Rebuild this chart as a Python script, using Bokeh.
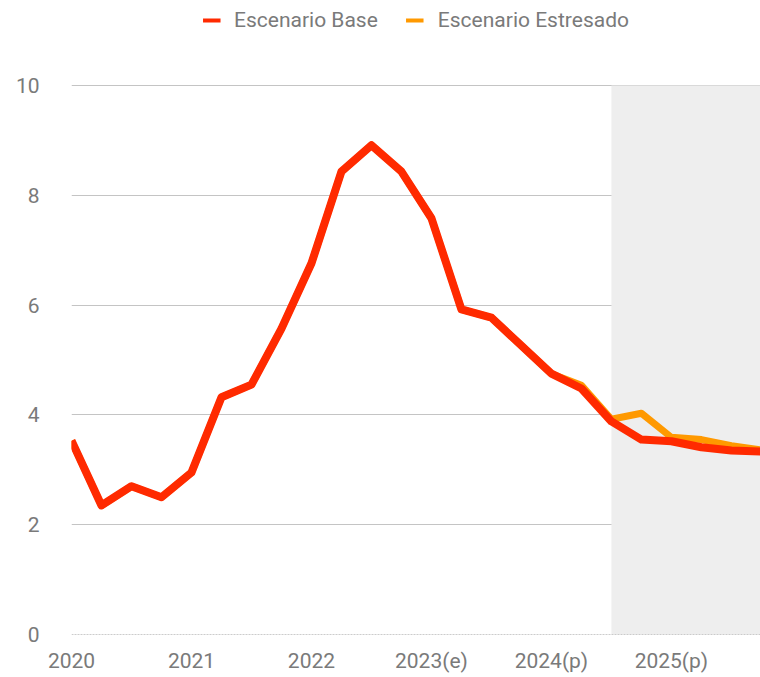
from bokeh.plotting import figure
from bokeh.models import (ColumnDataSource, FixedTicker, Span, BoxAnnotation,
                          Legend, LegendItem)
from bokeh.embed import file_html
from bokeh.resources import INLINE

# quarterly index 0 = 2020 Q1 ... 23 = 2025 Q4
quarters = list(range(24))
base = [3.53, 2.35, 2.70, 2.50, 2.95, 4.32, 4.55, 5.57, 6.76, 8.43, 8.91, 8.43,
        7.58, 5.92, 5.77, 5.26, 4.75, 4.48, 3.88, 3.55, 3.52, 3.41, 3.35, 3.33]
stress = [3.53, 2.35, 2.70, 2.50, 2.95, 4.32, 4.55, 5.57, 6.76, 8.43, 8.91, 8.43,
          7.58, 5.92, 5.77, 5.26, 4.75, 4.54, 3.92, 4.03, 3.59, 3.55, 3.44, 3.36]
year_ticks = [0, 4, 8, 12, 16, 20]
year_labels = ["2020", "2021", "2022", "2023(e)", "2024(p)", "2025(p)"]
y_ticks = [0, 2, 4, 6, 8, 10]
proj_start = 18

FONT = "Roboto"
GRAY = "#7a7a7a"
RED = "#ff2a00"
ORANGE = "#ff9900"

src = ColumnDataSource(dict(x=quarters, base=base, stress=stress))

p = figure(width=760, height=677, x_range=(0, 22.97), y_range=(0, 11.40),
           output_backend="svg", toolbar_location=None,
           min_border_left=71, min_border_right=0, min_border_top=8,
           min_border_bottom=43)
p.outline_line_color = None
p.background_fill_color = "white"

p.add_layout(BoxAnnotation(left=proj_start, right=23, bottom=0, top=10,
                           fill_color="#eeeeee", fill_alpha=1.0,
                           line_color=None, level="underlay"))

p.line("x", "stress", source=src, line_color=ORANGE, line_width=7,
       line_join="round")
p.line("x", "base", source=src, line_color=RED, line_width=8,
       line_join="round")

# legend sample lines (drawn off-range so only the legend shows them)
d1 = p.line([-10, -9], [-10, -10], line_color=RED, line_width=4)
d2 = p.line([-10, -9], [-10, -10], line_color=ORANGE, line_width=4)
legend = Legend(items=[LegendItem(label="Escenario Base", renderers=[d1]),
                       LegendItem(label="Escenario Estresado", renderers=[d2])],
                orientation="horizontal", location="top_center",
                label_text_font=FONT, label_text_font_size="21px",
                label_text_color=GRAY, glyph_width=18, glyph_height=20,
                spacing=28, label_standoff=14, padding=0, margin=0,
                background_fill_alpha=0, border_line_color=None)
p.add_layout(legend)

# axes
p.xaxis.ticker = FixedTicker(ticks=year_ticks)
p.xaxis.major_label_overrides = {t: l for t, l in zip(year_ticks, year_labels)}
p.yaxis.ticker = FixedTicker(ticks=y_ticks)
for ax in (p.xaxis, p.yaxis):
    ax.axis_line_color = None
    ax.major_tick_line_color = None
    ax.minor_tick_line_color = None
    ax.major_label_text_font = FONT
    ax.major_label_text_font_size = "21px"
    ax.major_label_text_color = GRAY
p.yaxis.major_label_standoff = 26
p.xaxis.major_label_standoff = 8

p.xgrid.grid_line_color = None
p.ygrid.ticker = FixedTicker(ticks=[2, 4, 6, 8, 10])
p.ygrid.grid_line_color = "#c4c4c4"
p.ygrid.grid_line_width = 1
p.add_layout(Span(location=0, dimension="width", line_color="#999999",
                  line_width=1, line_dash="2 1"))

open("out.html", "w").write(file_html(p, INLINE))
